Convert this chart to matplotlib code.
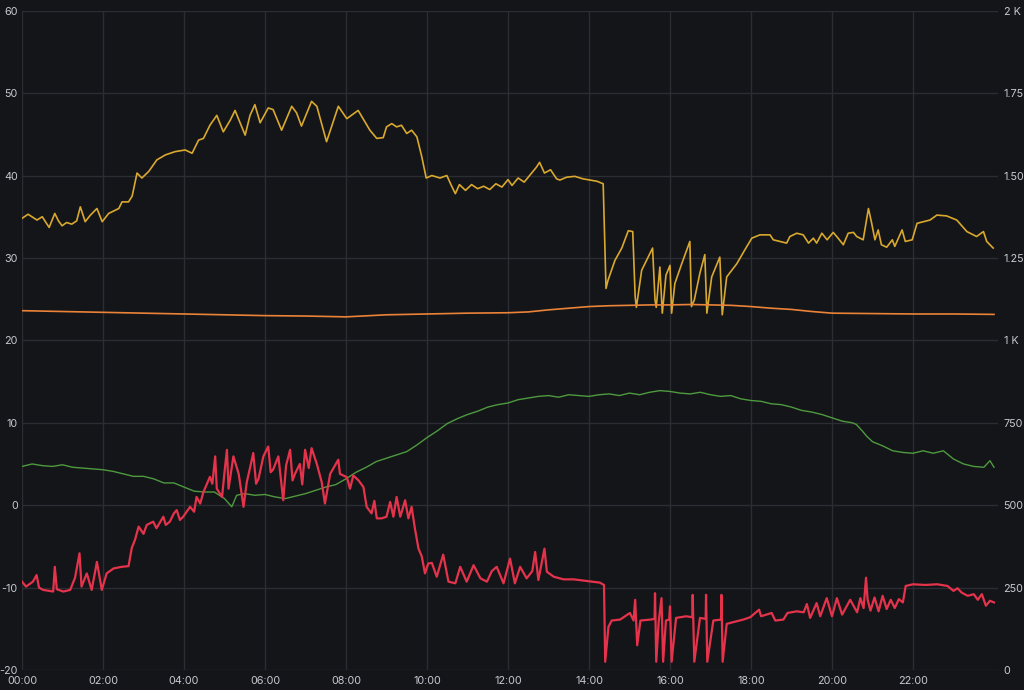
import matplotlib
matplotlib.use("Agg")
import matplotlib.pyplot as plt
from matplotlib.ticker import FixedLocator, FixedFormatter

# ---------------- data ----------------
x_ticks_h = [0, 2, 4, 6, 8, 10, 12, 14, 16, 18, 20, 22]
x_tick_labels = ["00:00", "02:00", "04:00", "06:00", "08:00", "10:00",
                 "12:00", "14:00", "16:00", "18:00", "20:00", "22:00"]
left_ticks = [-20, -10, 0, 10, 20, 30, 40, 50, 60]
left_labels = ["-20", "-10", "0", "10", "20", "30", "40", "50", "60"]
right_ticks = [0, 250, 500, 750, 1000, 1250, 1500, 1750, 2000]
right_labels = ["0", "250", "500", "750", "1 K", "1.25", "1.50", "1.75", "2 K"]

yellow_t = [0.00, 0.15, 0.37, 0.50, 0.67, 0.81, 0.90, 0.99, 1.10, 1.23, 1.35, 1.44,
            1.56, 1.69, 1.85, 1.98, 2.14, 2.39, 2.47, 2.63, 2.72, 2.84, 2.96, 3.13,
            3.33, 3.54, 3.78, 4.03, 4.20, 4.36, 4.48, 4.64, 4.81, 4.97, 5.14, 5.26,
            5.51, 5.63, 5.75, 5.88, 6.08, 6.20, 6.41, 6.66, 6.78, 6.90, 7.15, 7.28,
            7.52, 7.81, 8.02, 8.30, 8.59, 8.76, 8.92, 9.00, 9.13, 9.25, 9.37, 9.50,
            9.62, 9.75, 9.87, 9.98, 10.12, 10.32, 10.49, 10.60, 10.70, 10.80, 10.95,
            11.10, 11.25, 11.40, 11.55, 11.70, 11.85, 12.00, 12.10, 12.25, 12.40,
            12.55, 12.70, 12.78, 12.90, 13.05, 13.20, 13.28, 13.45, 13.65, 13.85,
            14.02, 14.20, 14.35, 14.42, 14.47, 14.64, 14.81, 14.97, 15.08, 15.14,
            15.17, 15.30, 15.46, 15.57, 15.63, 15.66, 15.75, 15.81, 15.90, 16.00,
            16.04, 16.12, 16.29, 16.49, 16.53, 16.60, 16.74, 16.86, 16.91, 17.03,
            17.23, 17.29, 17.40, 17.65, 17.85, 18.02, 18.22, 18.47, 18.55, 18.88,
            18.96, 19.13, 19.29, 19.42, 19.54, 19.62, 19.75, 19.88, 20.03, 20.15,
            20.28, 20.40, 20.53, 20.61, 20.77, 20.90, 20.98, 21.06, 21.14, 21.22,
            21.35, 21.49, 21.55, 21.73, 21.81, 21.98, 22.10, 22.42, 22.59, 22.83,
            23.08, 23.33, 23.57, 23.74, 23.82, 23.98]
yellow_v = [34.8, 35.3, 34.6, 35.0, 33.7, 35.4, 34.5, 33.9, 34.3, 34.1, 34.5, 36.2,
            34.4, 35.2, 36.0, 34.4, 35.4, 36.0, 36.8, 36.8, 37.5, 40.3, 39.7, 40.5,
            41.9, 42.5, 42.9, 43.1, 42.7, 44.3, 44.5, 46.1, 47.3, 45.3, 46.7, 47.9,
            44.9, 47.3, 48.6, 46.4, 48.2, 48.0, 45.5, 48.4, 47.6, 46.0, 49.0, 48.4,
            44.1, 48.4, 46.9, 47.9, 45.5, 44.5, 44.6, 45.9, 46.3, 45.9, 46.1, 45.1,
            45.5, 44.7, 42.3, 39.7, 40.0, 39.7, 40.0, 38.8, 37.8, 38.9, 38.2,
            38.9, 38.4, 38.7, 38.3, 39.0, 38.6, 39.5, 38.8, 39.7, 39.2,
            40.1, 41.0, 41.6, 40.3, 40.7, 39.6, 39.45, 39.8, 39.9, 39.6,
            39.45, 39.3, 39.0, 26.3, 27.3, 29.7, 31.2, 33.3, 33.2, 25.3,
            24.0, 28.5, 30.1, 31.2, 24.9, 24.0, 28.9, 23.3, 27.9, 29.1,
            23.3, 26.9, 29.3, 32.0, 24.1, 24.9, 28.2, 30.4, 23.3, 27.7,
            30.1, 23.1, 27.7, 29.3, 31.0, 32.4, 32.8, 32.8, 32.2, 31.8,
            32.6, 33.0, 32.8, 31.8, 32.4, 31.8, 33.0, 32.2, 33.1, 32.4,
            31.6, 33.0, 33.1, 32.6, 32.2, 36.0, 34.2, 32.2, 33.4, 31.6,
            31.3, 32.2, 31.4, 33.4, 32.0, 32.2, 34.2, 34.6, 35.2, 35.1,
            34.6, 33.2, 32.6, 33.2, 32.0, 31.2]

orange_t = [0, 1, 2, 3, 4, 5, 6, 7, 8, 9, 10, 11, 12, 12.5, 13, 13.5, 14, 14.5, 15,
            15.5, 16, 16.5, 17, 17.5, 18, 18.5, 19, 19.5, 20, 21, 22, 23, 24]
orange_v = [23.6, 23.5, 23.4, 23.3, 23.2, 23.1, 23.0, 22.95, 22.85, 23.1, 23.2, 23.3,
            23.35, 23.45, 23.7, 23.9, 24.1, 24.2, 24.25, 24.3, 24.3, 24.35, 24.3,
            24.25, 24.1, 23.9, 23.75, 23.5, 23.3, 23.25, 23.2, 23.2, 23.15]

green_t = [0.0, 0.25, 0.5, 0.75, 1.0, 1.25, 1.5, 1.75, 2.0, 2.25, 2.5, 2.75, 3.0,
           3.25, 3.5, 3.75, 4.0, 4.25, 4.5, 4.75, 5.0, 5.18, 5.3, 5.5, 5.75, 6.0,
           6.25, 6.5, 6.75, 7.0, 7.25, 7.5, 7.75, 8.0, 8.25, 8.5, 8.75, 9.0, 9.25,
           9.5, 9.75, 10.0, 10.25, 10.5, 10.75, 11.0, 11.25, 11.5, 11.75, 12.0,
           12.25, 12.5, 12.75, 13.0, 13.25, 13.5, 13.75, 14.0, 14.25, 14.5, 14.75,
           15.0, 15.25, 15.5, 15.75, 16.0, 16.25, 16.5, 16.75, 17.0, 17.25, 17.5,
           17.75, 18.0, 18.25, 18.5, 18.75, 19.0, 19.25, 19.5, 19.75, 20.0, 20.25,
           20.5, 20.6, 20.75, 20.85, 21.0, 21.25, 21.5, 21.75, 22.0, 22.25, 22.5,
           22.75, 23.0, 23.25, 23.5, 23.75, 23.9, 24.0]
green_v = [4.7, 5.0, 4.8, 4.7, 4.9, 4.6, 4.5, 4.4, 4.3, 4.1, 3.8, 3.5, 3.5,
           3.2, 2.7, 2.7, 2.2, 1.7, 1.6, 1.6, 0.8, -0.2, 1.2, 1.4, 1.2, 1.3,
           1.0, 0.8, 1.1, 1.4, 1.8, 2.2, 2.5, 3.2, 4.0, 4.6, 5.3, 5.7, 6.1,
           6.5, 7.3, 8.2, 9.0, 9.9, 10.5, 11.0, 11.4, 11.9, 12.2, 12.4,
           12.8, 13.0, 13.2, 13.3, 13.1, 13.4, 13.3, 13.2, 13.4, 13.5, 13.3,
           13.6, 13.4, 13.7, 13.9, 13.8, 13.6, 13.5, 13.7, 13.4, 13.2, 13.3,
           12.9, 12.7, 12.6, 12.3, 12.2, 11.9, 11.5, 11.3, 11.0, 10.6, 10.2,
           10.0, 9.8, 9.0, 8.4, 7.7, 7.2, 6.6, 6.4, 6.3, 6.6, 6.3,
           6.6, 5.6, 5.0, 4.7, 4.6, 5.4, 4.6]

red_t = [0.00, 0.10, 0.27, 0.36, 0.42, 0.52, 0.77, 0.81, 0.86, 1.02, 1.19, 1.31,
         1.42, 1.47, 1.60, 1.72, 1.85, 1.97, 2.09, 2.26, 2.46, 2.63, 2.71, 2.79,
         2.88, 3.00, 3.08, 3.24, 3.32, 3.49, 3.55, 3.65, 3.75, 3.82, 3.90, 3.98,
         4.15, 4.25, 4.31, 4.40, 4.48, 4.55, 4.64, 4.70, 4.77, 4.81, 4.94, 5.00,
         5.06, 5.10, 5.22, 5.35, 5.47, 5.55, 5.63, 5.71, 5.78, 5.84, 5.96, 6.08,
         6.14, 6.20, 6.33, 6.45, 6.52, 6.62, 6.68, 6.74, 6.86, 6.92, 6.99, 7.08,
         7.15, 7.28, 7.40, 7.48, 7.61, 7.81, 7.85, 8.02, 8.10, 8.18, 8.31, 8.43,
         8.51, 8.63, 8.70, 8.76, 8.88, 9.00, 9.09, 9.17, 9.25, 9.34, 9.46, 9.54,
         9.62, 9.70, 9.79, 9.87, 9.95, 10.03, 10.12, 10.24, 10.40, 10.53, 10.70,
         10.82, 10.98, 11.15, 11.32, 11.48, 11.60, 11.72, 11.89, 12.05, 12.17,
         12.30, 12.46, 12.60, 12.67, 12.75, 12.90, 12.96, 13.13, 13.37, 13.62,
         13.95, 14.27, 14.37, 14.40, 14.48, 14.56, 14.77, 15.01, 15.10, 15.14,
         15.19, 15.27, 15.52, 15.62, 15.63, 15.66, 15.72, 15.79, 15.83, 15.90,
         15.98, 16.00, 16.04, 16.15, 16.40, 16.55, 16.56, 16.60, 16.74, 16.88,
         16.89, 16.92, 17.07, 17.26, 17.27, 17.30, 17.40, 17.56, 17.81, 17.98,
         18.20, 18.25, 18.51, 18.60, 18.80, 18.90, 19.13, 19.30, 19.38, 19.46,
         19.62, 19.71, 19.87, 20.00, 20.12, 20.25, 20.45, 20.62, 20.70, 20.78,
         20.84, 20.88, 20.95, 21.05, 21.15, 21.25, 21.35, 21.45, 21.55, 21.65,
         21.75, 21.82, 22.00, 22.30, 22.60, 22.85, 23.00, 23.10, 23.20, 23.35,
         23.50, 23.60, 23.70, 23.80, 23.90, 24.00]
red_w = [268, 253, 268, 288, 250, 243, 238, 313, 245, 238, 243, 280,
         354, 253, 293, 243, 328, 243, 293, 308, 313, 315, 370, 395,
         435, 413, 440, 450, 430, 465, 440, 450, 475, 485, 455, 465,
         495, 480, 525, 505, 540, 560, 586, 565, 648, 550, 525, 600,
         668, 550, 648, 595, 495, 570, 613, 658, 565, 580, 648, 678,
         600, 608, 648, 515, 620, 668, 575, 595, 625, 563, 668, 613,
         673, 625, 570, 505, 595, 638, 595, 585, 550, 590, 575, 555,
         495, 475, 513, 460, 460, 465, 510, 465, 525, 465, 515, 460,
         495, 430, 368, 345, 293, 323, 325, 283, 350, 268, 263,
         313, 268, 318, 278, 268, 300, 313, 263, 338, 263,
         313, 278, 300, 358, 273, 368, 298, 283, 275, 275,
         270, 265, 258, 25, 131, 150, 153, 173, 150, 213,
         75, 150, 153, 155, 233, 25, 145, 218, 25, 150,
         153, 193, 25, 158, 163, 160, 228, 25, 158, 155,
         228, 25, 150, 153, 228, 25, 140, 145, 153, 160,
         183, 163, 173, 150, 153, 173, 178, 175, 200, 158,
         203, 163, 218, 163, 218, 168, 213, 175, 218, 188,
         280, 213, 180, 220, 178, 225, 185, 213, 188, 215,
         205, 255, 260, 258, 260, 255, 240, 248, 235, 225,
         230, 213, 230, 195, 210, 205]

# ---------------- style ----------------
BG = "#141519"
GRID = "#2c2d33"
TXT = "#c7c9d1"
C_YELLOW = "#D9A82E"
C_ORANGE = "#EA8338"
C_GREEN = "#4E9A3E"
C_RED = "#E5334C"

plt.rcParams["font.family"] = ["Inter", "DejaVu Sans"]

W, H = 1024, 690
fig = plt.figure(figsize=(W / 100, H / 100), dpi=100, facecolor=BG)
ax = fig.add_axes([22 / W, 20 / H, 976 / W, 659.3 / H])
ax.set_facecolor(BG)
ax2 = ax.twinx()

ax.plot(yellow_t, yellow_v, color=C_YELLOW, lw=1.2, zorder=3)
ax.plot(orange_t, orange_v, color=C_ORANGE, lw=1.2, zorder=3)
ax.plot(green_t, green_v, color=C_GREEN, lw=1.0, zorder=3)
ax2.plot(red_t, red_w, color=C_RED, lw=1.6, zorder=3)

ax.set_xlim(0, 976 / 40.5)
ax.set_ylim(-20, 60)
ax2.set_ylim(0, 2000)

ax.xaxis.set_major_locator(FixedLocator(x_ticks_h))
ax.xaxis.set_major_formatter(FixedFormatter(x_tick_labels))
ax.yaxis.set_major_locator(FixedLocator(left_ticks))
ax.yaxis.set_major_formatter(FixedFormatter(left_labels))
ax2.yaxis.set_major_locator(FixedLocator(right_ticks))
ax2.yaxis.set_major_formatter(FixedFormatter(right_labels))

ax.grid(True, color=GRID, lw=1.0, zorder=0)
ax.set_axisbelow(True)
for a in (ax, ax2):
    for s in a.spines.values():
        s.set_visible(False)
    a.tick_params(length=0, colors=TXT, labelsize=7.8)
ax.tick_params(axis="y", pad=3)
ax.tick_params(axis="x", pad=4)
ax2.tick_params(axis="y", pad=4)

fig.savefig("out.png", dpi=100, facecolor=BG)
